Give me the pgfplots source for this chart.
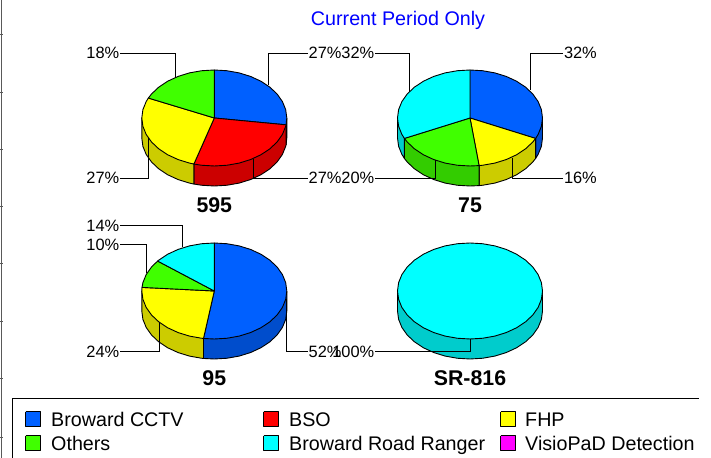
\documentclass[border=0pt]{standalone}
\usepackage{pgfplots}
\pgfplotsset{compat=1.18}
\usepackage{fontspec}
\setmainfont{Liberation Sans}
\definecolor{cBlue}{RGB}{0,96,255}
\definecolor{cBlueD}{RGB}{0,77,204}
\definecolor{cRed}{RGB}{255,0,0}
\definecolor{cRedD}{RGB}{204,0,0}
\definecolor{cYel}{RGB}{255,255,0}
\definecolor{cYelD}{RGB}{204,204,0}
\definecolor{cGrn}{RGB}{64,255,0}
\definecolor{cGrnD}{RGB}{51,204,0}
\definecolor{cCya}{RGB}{0,255,255}
\definecolor{cCyaD}{RGB}{0,204,204}
\definecolor{cMag}{RGB}{255,0,255}
\pgfplotsset{
  pieaxis/.style={hide axis, scale only axis, clip=false, anchor=center,
    width=200bp, height=200bp, xmin=-100, xmax=100, ymin=-100, ymax=100},
  sect/.style={draw=black, line width=0.9bp, line join=round, fill=#1},
  lead/.style={draw=black, line width=0.9bp, line join=miter},
}
\tikzset{
  lbl/.style={font=\fontsize{16.4bp}{16bp}\selectfont, inner sep=0pt, yshift=-5.9bp, text=black},
  ll/.style={lbl, anchor=base east},
  rl/.style={lbl, anchor=base west},
  ttl/.style={font=\fontsize{21.3bp}{21bp}\selectfont\bfseries, inner sep=0pt, anchor=base},
  lg/.style={font=\fontsize{19.7bp}{20bp}\selectfont, inner sep=0pt, anchor=base west, text=black},
}
\begin{document}
\begin{tikzpicture}[x=1bp,y=1bp]
\path[use as bounding box] (0,0) rectangle (711,458);
% page furniture, title and legend, in picture pixels
\begin{axis}[at={(0,0)}, anchor=south west, hide axis, scale only axis, clip=false,
  width=711bp, height=458bp, xmin=0, xmax=711, ymin=0, ymax=458, y dir=reverse]
\addplot[draw=black!65, line width=1.1bp] coordinates {(1.5,0)(1.5,458)};
\addplot[draw=black!65, line width=1bp] coordinates {(0,35)(3,35)};
\addplot[draw=black!65, line width=1bp] coordinates {(0,93)(3,93)};
\addplot[draw=black!65, line width=1bp] coordinates {(0,150)(3,150)};
\addplot[draw=black!65, line width=1bp] coordinates {(0,207)(3,207)};
\addplot[draw=black!65, line width=1bp] coordinates {(0,264)(3,264)};
\addplot[draw=black!65, line width=1bp] coordinates {(0,322)(3,322)};
\addplot[draw=black!65, line width=1bp] coordinates {(0,379)(3,379)};
\addplot[draw=black!65, line width=1bp] coordinates {(0,437)(3,437)};
\addplot[draw=black, line width=0.9bp] coordinates {(12.5,458)(12.5,398.5)(699,398.5)};
\addplot[sect=cBlue] coordinates {(25.5,411.5)(40.5,411.5)(40.5,426.5)(25.5,426.5)(25.5,411.5)};
\addplot[sect=cGrn] coordinates {(25.5,435.5)(40.5,435.5)(40.5,450.5)(25.5,450.5)(25.5,435.5)};
\addplot[sect=cRed] coordinates {(263.5,411.5)(278,411.5)(278,426.5)(263.5,426.5)(263.5,411.5)};
\addplot[sect=cCya] coordinates {(263.5,435.5)(278,435.5)(278,450.5)(263.5,450.5)(263.5,435.5)};
\addplot[sect=cYel] coordinates {(500.5,411.5)(515.5,411.5)(515.5,426.5)(500.5,426.5)(500.5,411.5)};
\addplot[sect=cMag] coordinates {(500.5,435.5)(515.5,435.5)(515.5,450.5)(500.5,450.5)(500.5,435.5)};
\node[lg] at (axis cs:51,426) {Broward CCTV};
\node[lg] at (axis cs:51,450) {Others};
\node[lg] at (axis cs:289,426) {BSO};
\node[lg] at (axis cs:289,450) {Broward Road Ranger};
\node[lg] at (axis cs:525,426) {FHP};
\node[lg] at (axis cs:525,450) {VisioPaD Detection};
\node[font=\fontsize{19.7bp}{20bp}\selectfont, text=blue, inner sep=0pt, anchor=base] at (axis cs:398,26) {Current Period Only};
\node[ttl] at (axis cs:214.3,213) {595};
\node[ttl] at (axis cs:470,213) {75};
\node[ttl] at (axis cs:214.3,385.7) {95};
\node[ttl] at (axis cs:470,385.7) {SR-816};
\end{axis}
% 595
\begin{axis}[pieaxis, at={(214.3,340)}]
\addplot[lead] coordinates {(54.4,33)(54.4,65)(93.7,65)};
\addplot[lead] coordinates {(-39,41)(-39,65)(-94.3,65)};
\addplot[lead] coordinates {(-66,-20)(-66,-60)(-94.3,-60)};
\addplot[sect=cBlueD] coordinates {(72.5,0)(71.76,-6.83)(71.76,-26.83)(72.5,-20)(72.5,0)};
\addplot[sect=cRedD] coordinates {(71.76,-6.83)(-20.42,-46.05)(-20.42,-66.05)(-12.59,-67.27)(0,-68)(12.59,-67.27)(24.80,-65.11)(36.25,-61.57)(46.60,-56.77)(55.54,-50.85)(62.79,-44)(68.13,-36.42)(71.40,-28.33)(71.76,-26.83)(71.76,-6.83)};
\addplot[sect=cYelD] coordinates {(-20.42,-46.05)(-72.5,0)(-72.5,-20)(-71.40,-28.33)(-68.13,-36.42)(-62.79,-44)(-55.54,-50.85)(-46.60,-56.77)(-36.25,-61.57)(-24.80,-65.11)(-20.42,-66.05)(-20.42,-46.05)};
\addplot[sect=cBlue] coordinates {(0,0)(0,48)(12.59,47.27)(24.80,45.11)(36.25,41.57)(46.60,36.77)(55.54,30.85)(62.79,24)(68.13,16.42)(71.40,8.33)(72.5,0)(71.76,-6.83)(0,0)};
\addplot[sect=cRed] coordinates {(0,0)(71.76,-6.83)(71.40,-8.33)(68.13,-16.42)(62.79,-24)(55.54,-30.85)(46.60,-36.77)(36.25,-41.57)(24.80,-45.11)(12.59,-47.27)(0,-48)(-12.59,-47.27)(-20.42,-46.05)(0,0)};
\addplot[sect=cYel] coordinates {(0,0)(-20.42,-46.05)(-24.80,-45.11)(-36.25,-41.57)(-46.60,-36.77)(-55.54,-30.85)(-62.79,-24)(-68.13,-16.42)(-71.40,-8.33)(-72.5,0)(-71.40,8.33)(-68.13,16.42)(-65.95,19.94)(0,0)};
\addplot[sect=cGrn] coordinates {(0,0)(-65.95,19.94)(-62.79,24)(-55.54,30.85)(-46.60,36.77)(-36.25,41.57)(-24.80,45.11)(-12.59,47.27)(0,48)(0,0)};
\addplot[lead] coordinates {(39,-41)(39,-60)(93.7,-60)};
\addplot[lead] coordinates {(-66,-20)(-66,-39)};
\node[rl] at (axis cs:94.2,65) {27\%};
\node[ll] at (axis cs:-94.8,65) {18\%};
\node[ll] at (axis cs:-94.8,-60) {27\%};
\node[rl] at (axis cs:94.2,-60) {27\%};
\end{axis}
% 75
\begin{axis}[pieaxis, at={(470,340)}]
\addplot[lead] coordinates {(60.7,28)(60.7,65)(93.3,65)};
\addplot[lead] coordinates {(-61,26)(-61,65)(-95,65)};
\addplot[sect=cBlueD] coordinates {(72.5,0)(65.60,-20.44)(65.60,-40.44)(68.13,-36.42)(71.40,-28.33)(72.5,-20)(72.5,0)};
\addplot[sect=cYelD] coordinates {(65.60,-20.44)(9.09,-47.62)(9.09,-67.62)(12.59,-67.27)(24.80,-65.11)(36.25,-61.57)(46.60,-56.77)(55.54,-50.85)(62.79,-44)(65.60,-40.44)(65.60,-20.44)};
\addplot[sect=cGrnD] coordinates {(9.09,-47.62)(-65.60,-20.44)(-65.60,-40.44)(-62.79,-44)(-55.54,-50.85)(-46.60,-56.77)(-36.25,-61.57)(-24.80,-65.11)(-12.59,-67.27)(0,-68)(9.09,-67.62)(9.09,-47.62)};
\addplot[sect=cCyaD] coordinates {(-65.60,-20.44)(-72.5,0)(-72.5,-20)(-71.40,-28.33)(-68.13,-36.42)(-65.60,-40.44)(-65.60,-20.44)};
\addplot[sect=cBlue] coordinates {(0,0)(0,48)(12.59,47.27)(24.80,45.11)(36.25,41.57)(46.60,36.77)(55.54,30.85)(62.79,24)(68.13,16.42)(71.40,8.33)(72.5,0)(71.40,-8.33)(68.13,-16.42)(65.60,-20.44)(0,0)};
\addplot[sect=cYel] coordinates {(0,0)(65.60,-20.44)(62.79,-24)(55.54,-30.85)(46.60,-36.77)(36.25,-41.57)(24.80,-45.11)(12.59,-47.27)(9.09,-47.62)(0,0)};
\addplot[sect=cGrn] coordinates {(0,0)(9.09,-47.62)(0,-48)(-12.59,-47.27)(-24.80,-45.11)(-36.25,-41.57)(-46.60,-36.77)(-55.54,-30.85)(-62.79,-24)(-65.60,-20.44)(0,0)};
\addplot[sect=cCya] coordinates {(0,0)(-65.60,-20.44)(-68.13,-16.42)(-71.40,-8.33)(-72.5,0)(-71.40,8.33)(-68.13,16.42)(-62.79,24)(-55.54,30.85)(-46.60,36.77)(-36.25,41.57)(-24.80,45.11)(-12.59,47.27)(0,48)(0,0)};
\addplot[lead] coordinates {(-35,-42)(-35,-60)(-95,-60)};
\addplot[lead] coordinates {(42.3,-40)(42.3,-60)(93.3,-60)};
\node[rl] at (axis cs:93.8,65) {32\%};
\node[ll] at (axis cs:-95.5,65) {32\%};
\node[ll] at (axis cs:-95.5,-60) {20\%};
\node[rl] at (axis cs:93.8,-60) {16\%};
\end{axis}
% 95
\begin{axis}[pieaxis, at={(214.3,167)}]
\addplot[lead] coordinates {(-31.6,44.3)(-31.6,65.3)(-94.3,65.3)};
\addplot[lead] coordinates {(-67.6,18)(-67.6,46.7)(-94.3,46.7)};
\addplot[sect=cBlueD] coordinates {(72.5,0)(-10.80,-47.46)(-10.80,-67.46)(0,-68)(12.59,-67.27)(24.80,-65.11)(36.25,-61.57)(46.60,-56.77)(55.54,-50.85)(62.79,-44)(68.13,-36.42)(71.40,-28.33)(72.5,-20)(72.5,0)};
\addplot[sect=cYelD] coordinates {(-10.80,-47.46)(-72.5,0)(-72.5,-20)(-71.40,-28.33)(-68.13,-36.42)(-62.79,-44)(-55.54,-50.85)(-46.60,-56.77)(-36.25,-61.57)(-24.80,-65.11)(-12.59,-67.27)(-10.80,-67.46)(-10.80,-47.46)};
\addplot[sect=cBlue] coordinates {(0,0)(0,48)(12.59,47.27)(24.80,45.11)(36.25,41.57)(46.60,36.77)(55.54,30.85)(62.79,24)(68.13,16.42)(71.40,8.33)(72.5,0)(71.40,-8.33)(68.13,-16.42)(62.79,-24)(55.54,-30.85)(46.60,-36.77)(36.25,-41.57)(24.80,-45.11)(12.59,-47.27)(0,-48)(-10.80,-47.46)(0,0)};
\addplot[sect=cYel] coordinates {(0,0)(-10.80,-47.46)(-12.59,-47.27)(-24.80,-45.11)(-36.25,-41.57)(-46.60,-36.77)(-55.54,-30.85)(-62.79,-24)(-68.13,-16.42)(-71.40,-8.33)(-72.5,0)(-72.30,3.59)(0,0)};
\addplot[sect=cGrn] coordinates {(0,0)(-72.30,3.59)(-71.40,8.33)(-68.13,16.42)(-62.79,24)(-56.68,29.93)(0,0)};
\addplot[sect=cCya] coordinates {(0,0)(-56.68,29.93)(-55.54,30.85)(-46.60,36.77)(-36.25,41.57)(-24.80,45.11)(-12.59,47.27)(0,48)(0,0)};
\addplot[lead] coordinates {(-55,-30.7)(-55,-60.3)(-94.3,-60.3)};
\addplot[lead] coordinates {(72,-8)(72,-60.3)(93.7,-60.3)};
\node[ll] at (axis cs:-94.8,65.3) {14\%};
\node[ll] at (axis cs:-94.8,46.7) {10\%};
\node[ll] at (axis cs:-94.8,-60.3) {24\%};
\node[rl] at (axis cs:94.2,-60.3) {52\%};
\end{axis}
% SR-816
\begin{axis}[pieaxis, at={(470,167)}]
\addplot[sect=cCyaD] coordinates {(72.5,0)(-72.5,0)(-72.5,-20)(-71.40,-28.33)(-68.13,-36.42)(-62.79,-44)(-55.54,-50.85)(-46.60,-56.77)(-36.25,-61.57)(-24.80,-65.11)(-12.59,-67.27)(0,-68)(12.59,-67.27)(24.80,-65.11)(36.25,-61.57)(46.60,-56.77)(55.54,-50.85)(62.79,-44)(68.13,-36.42)(71.40,-28.33)(72.5,-20)(72.5,0)};
\addplot[sect=cCya] coordinates {(0,48)(12.59,47.27)(24.80,45.11)(36.25,41.57)(46.60,36.77)(55.54,30.85)(62.79,24)(68.13,16.42)(71.40,8.33)(72.5,0)(71.40,-8.33)(68.13,-16.42)(62.79,-24)(55.54,-30.85)(46.60,-36.77)(36.25,-41.57)(24.80,-45.11)(12.59,-47.27)(0,-48)(-12.59,-47.27)(-24.80,-45.11)(-36.25,-41.57)(-46.60,-36.77)(-55.54,-30.85)(-62.79,-24)(-68.13,-16.42)(-71.40,-8.33)(-72.5,0)(-71.40,8.33)(-68.13,16.42)(-62.79,24)(-55.54,30.85)(-46.60,36.77)(-36.25,41.57)(-24.80,45.11)(-12.59,47.27)(0,48)};
\addplot[lead] coordinates {(0,-48)(0,-60.3)(-95,-60.3)};
\node[ll] at (axis cs:-95.5,-60.3) {100\%};
\end{axis}
\end{tikzpicture}
\end{document}
